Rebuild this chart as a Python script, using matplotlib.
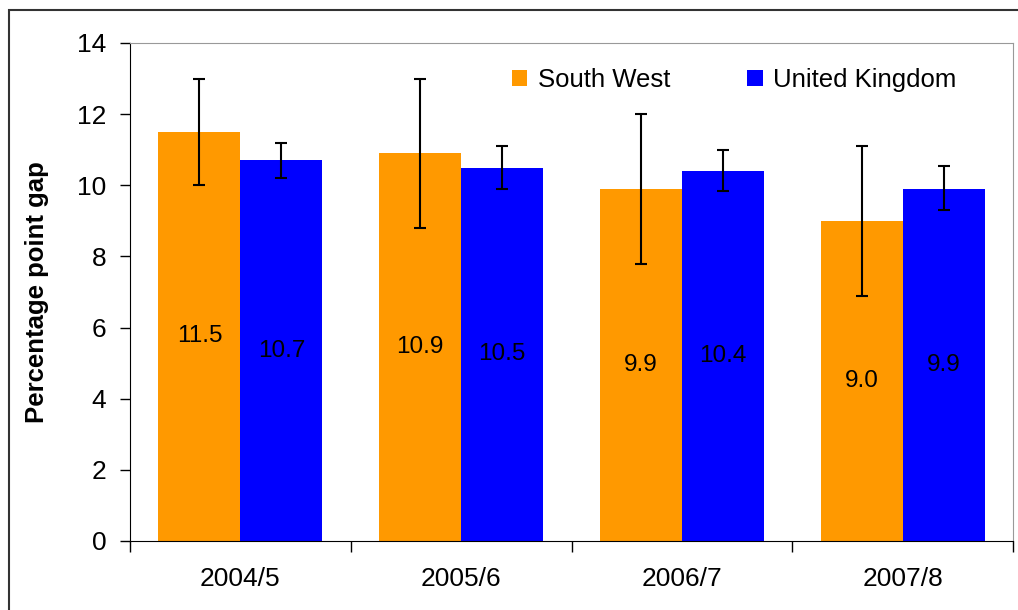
import matplotlib.pyplot as plt
import numpy as np
from matplotlib.patches import Rectangle

plt.rcParams["font.family"] = ["Liberation Sans", "DejaVu Sans"]

# ---------------------------------------------------------------------------
# Data
# ---------------------------------------------------------------------------
years = ["2004/5", "2005/6", "2006/7", "2007/8"]
south_west = [11.5, 10.9, 9.9, 9.0]
sw_low = [10.0, 8.8, 7.8, 6.9]
sw_high = [13.0, 13.0, 12.0, 11.1]
united_kingdom = [10.7, 10.5, 10.4, 9.9]
uk_low = [10.2, 9.9, 9.85, 9.3]
uk_high = [11.2, 11.1, 11.0, 10.55]

ORANGE = "#FF9900"
BLUE = "#0000FF"

# ---------------------------------------------------------------------------
# Plot
# ---------------------------------------------------------------------------
fig = plt.figure(figsize=(10.18, 6.10), dpi=100)
ax = fig.add_axes([130 / 1018, 1 - 541 / 610, 883 / 1018, 498 / 610])

x = np.arange(len(years))
w = 0.371

sw = np.array(south_west)
uk = np.array(united_kingdom)
sw_err = [sw - np.array(sw_low), np.array(sw_high) - sw]
uk_err = [uk - np.array(uk_low), np.array(uk_high) - uk]

err_kw = dict(ecolor="black", elinewidth=1.5, capsize=4.5, capthick=1.5)
ax.bar(x - w / 2, sw, w, color=ORANGE, yerr=sw_err, error_kw=err_kw, label="South West")
ax.bar(x + w / 2, uk, w, color=BLUE, yerr=uk_err, error_kw=err_kw, label="United Kingdom")

for xi, v in zip(x - w / 2, sw):
    ax.text(xi, v / 2, f"{v:.1f}", ha="center", va="center", fontsize=17.5)
for xi, v in zip(x + w / 2, uk):
    ax.text(xi, v / 2, f"{v:.1f}", ha="center", va="center", fontsize=17.5)

ax.set_xlim(-0.5, len(years) - 0.5)
ax.set_ylim(0, 14)
ax.set_yticks(range(0, 15, 2))
ax.tick_params(axis="y", labelsize=19, length=7, width=1, pad=10)

ax.set_xticks(np.arange(len(years) + 1) - 0.5)
ax.set_xticklabels([])
ax.set_xticks(x, minor=True)
ax.set_xticklabels(years, minor=True)
ax.tick_params(axis="x", which="major", length=8, width=1)
ax.tick_params(axis="x", which="minor", length=0, labelsize=19, pad=19)

ax.set_ylabel("Percentage point gap", fontsize=18.5, fontweight="bold", labelpad=20)

for side in ("left", "bottom"):
    ax.spines[side].set_color("black")
for side in ("top", "right"):
    ax.spines[side].set_color("#999999")

ax.legend(loc="center left", bbox_to_anchor=(0.4326, 0.926), ncol=2, frameon=False,
          fontsize=18.5, handlelength=0.6, handleheight=0.6, handletextpad=0.4,
          columnspacing=3.0, borderpad=0, borderaxespad=0)

# outer frame around the chart (right and bottom edges fall outside the image)
fig.patches.append(Rectangle((9 / 1018, -0.1), 1.2, 1 - 10 / 610 + 0.1,
                             transform=fig.transFigure, fill=False,
                             edgecolor="#333333", linewidth=1.5))

fig.savefig("out.png", dpi=100)
